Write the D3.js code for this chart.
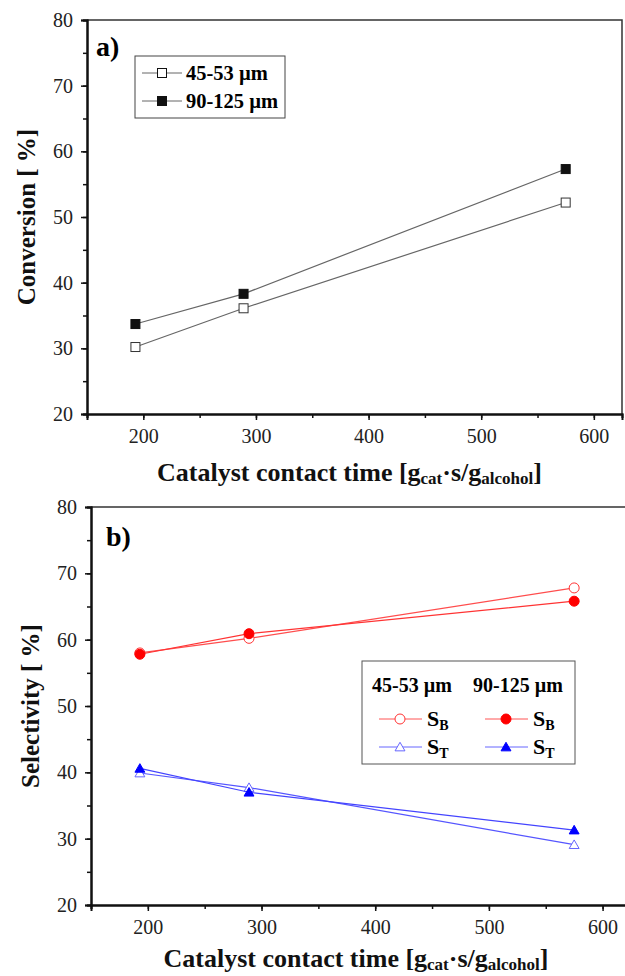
<!DOCTYPE html>
<html>
<head>
<meta charset="utf-8">
<script src="https://cdn.jsdelivr.net/npm/d3@7"></script>
<style>
  body { margin: 0; background: #fff; }
  svg text { font-family: "Liberation Serif", "DejaVu Serif", "Noto Serif", serif !important; }
</style>
</head>
<body>
<div id="chart"></div>
<script>
// contact time points, shared by both panels
var contactTime = [193, 289, 575];

// panel a) conversion
var convSmall = [30.2, 36.1, 52.2];   // 45-53 um
var convLarge = [33.7, 38.3, 57.3];   // 90-125 um

// panel b) selectivity
var sbSmall = [58.0, 60.2, 67.8];
var sbLarge = [57.8, 60.9, 65.8];
var stSmall = [39.9, 37.7, 29.1];
var stLarge = [40.6, 37.0, 31.3];

var xTicks = [200, 300, 400, 500, 600];
var yTicks = [20, 30, 40, 50, 60, 70, 80];

var W = 625, H = 976;
var svg = d3.select("#chart").append("svg").attr("width", W).attr("height", H);

function drawFrame(box, titleY) {
    var x = d3.scaleLinear().domain([150, 625]).range([box.left, box.right]);
    var y = d3.scaleLinear().domain([20, 80]).range([box.bottom, box.top]);
    var g = svg.append("g");

    // frame top and right
    g.append("path")
        .attr("d", "M" + box.left + "," + box.top + "H" + box.right + "V" + box.bottom)
        .attr("fill", "none").attr("stroke", "#333").attr("stroke-width", 1.5);

    // minor ticks
    var xAxis = d3.axisBottom(x).tickValues(d3.range(150, 626, 50)).tickSize(4).tickFormat("");
    g.append("g").attr("transform", "translate(0," + box.bottom + ")").call(xAxis);
    var xMajor = d3.axisBottom(x).tickValues(xTicks).tickSize(6).tickPadding(9).tickFormat(d3.format("d"));
    g.append("g").attr("class", "xmaj").attr("transform", "translate(0," + box.bottom + ")").call(xMajor);

    var yMinor = d3.axisLeft(y).tickValues(d3.range(20, 81, 5)).tickSize(4).tickFormat("");
    g.append("g").attr("transform", "translate(" + box.left + ",0)").call(yMinor);
    var yMajor = d3.axisLeft(y).tickValues(yTicks).tickSize(6).tickPadding(8).tickFormat(d3.format("d"));
    g.append("g").attr("class", "ymaj").attr("transform", "translate(" + box.left + ",0)").call(yMajor);

    g.selectAll(".domain").attr("stroke", "#111").attr("stroke-width", 2);
    g.selectAll(".tick line").attr("stroke", "#111").attr("stroke-width", 1.5);
    g.selectAll(".tick text").attr("font-size", 20).attr("fill", "#222");

    // x title with subscripts
    var t = g.append("text")
        .attr("x", (box.left + box.right) / 2 - 5)
        .attr("y", titleY)
        .attr("text-anchor", "middle")
        .attr("font-size", 26).attr("font-weight", "bold").attr("fill", "#111");
    t.append("tspan").text("Catalyst  contact  time  [g");
    t.append("tspan").attr("font-size", 17).attr("dy", 3).text("cat");
    t.append("tspan").attr("dy", -3).text("·s/g");
    t.append("tspan").attr("font-size", 17).attr("dy", 3).text("alcohol");
    t.append("tspan").attr("dy", -3).text("]");

    return { x: x, y: y, g: g };
}

function square(g, cx, cy, filled, color) {
    g.append("rect").attr("x", cx - 4.5).attr("y", cy - 4.5).attr("width", 9).attr("height", 9)
        .attr("fill", filled ? color : "#fff").attr("stroke", color).attr("stroke-width", 1);
}
function circle(g, cx, cy, filled, color) {
    g.append("circle").attr("cx", cx).attr("cy", cy).attr("r", 5)
        .attr("fill", filled ? color : "#fff").attr("stroke", color).attr("stroke-width", 1);
}
function triangle(g, cx, cy, filled, color) {
    g.append("path").attr("d", d3.symbol(d3.symbolTriangle2, 70)())
        .attr("transform", "translate(" + cx + "," + (cy + 1) + ")")
        .attr("fill", filled ? color : "#fff").attr("stroke", color).attr("stroke-width", 1);
}

function series(p, vals, lineColor, markerColor, marker, filled) {
    var line = d3.line().x(function (d, i) { return p.x(contactTime[i]); }).y(function (d) { return p.y(d); });
    p.g.append("path").datum(vals).attr("d", line)
        .attr("fill", "none").attr("stroke", lineColor).attr("stroke-width", 1.2);
    vals.forEach(function (d, i) { marker(p.g, p.x(contactTime[i]), p.y(d), filled, markerColor); });
}

// ---- panel a ----
var pa = drawFrame({ left: 87, right: 622, top: 20, bottom: 414 }, 481);
series(pa, convSmall, "#666", "#333", square, false);
series(pa, convLarge, "#666", "#111", square, true);

pa.g.append("text").attr("x", 96).attr("y", 56).attr("font-size", 28).attr("font-weight", "bold").text("a)");
pa.g.append("text").attr("transform", "translate(35,217) rotate(-90)").attr("text-anchor", "middle")
    .attr("font-size", 25).attr("font-weight", "bold").attr("fill", "#111").text("Conversion [ %]");

var la = pa.g.append("g");
la.append("rect").attr("x", 135).attr("y", 56).attr("width", 150).attr("height", 62)
    .attr("fill", "#fff").attr("stroke", "#444");
[["45-53 µm", false, 73], ["90-125 µm", true, 101]].forEach(function (r) {
    la.append("line").attr("x1", 142).attr("x2", 182).attr("y1", r[2]).attr("y2", r[2]).attr("stroke", "#666");
    square(la, 162, r[2], r[1], "#111");
    la.append("text").attr("x", 186).attr("y", r[2] + 7).attr("font-size", 20.5).attr("font-weight", "bold").text(r[0]);
});

// ---- panel b ----
var pb = drawFrame({ left: 91, right: 631, top: 507, bottom: 905 }, 967);
series(pb, sbSmall, "#ff4d4d", "#f33", circle, false);
series(pb, sbLarge, "#ff3333", "#f00", circle, true);
series(pb, stSmall, "#5555ff", "#66f", triangle, false);
series(pb, stLarge, "#4444ff", "#00f", triangle, true);

pb.g.append("text").attr("x", 106).attr("y", 546).attr("font-size", 28).attr("font-weight", "bold").text("b)");
pb.g.append("text").attr("transform", "translate(39,706) rotate(-90)").attr("text-anchor", "middle")
    .attr("font-size", 25).attr("font-weight", "bold").attr("fill", "#111").text("Selectivity [ %]");

var lb = pb.g.append("g");
lb.append("rect").attr("x", 362).attr("y", 661).attr("width", 213).attr("height", 103)
    .attr("fill", "#fff").attr("stroke", "#555");
lb.append("text").attr("x", 372).attr("y", 692).attr("font-size", 20).attr("font-weight", "bold").text("45-53 µm");
lb.append("text").attr("x", 473).attr("y", 692).attr("font-size", 20).attr("font-weight", "bold").text("90-125 µm");
var legRows = [
    { x: 379, y: 719, color: "#f55", mc: "#f33", m: circle, f: false, sub: "B" },
    { x: 485, y: 719, color: "#f55", mc: "#f00", m: circle, f: true, sub: "B" },
    { x: 379, y: 747, color: "#66f", mc: "#66f", m: triangle, f: false, sub: "T" },
    { x: 485, y: 747, color: "#66f", mc: "#00f", m: triangle, f: true, sub: "T" }
];
legRows.forEach(function (r) {
    lb.append("line").attr("x1", r.x).attr("x2", r.x + 43).attr("y1", r.y).attr("y2", r.y).attr("stroke", r.color);
    r.m(lb, r.x + 21, r.y, r.f, r.mc);
    var t = lb.append("text").attr("x", r.x + 48).attr("y", r.y + 7).attr("font-size", 22).attr("font-weight", "bold");
    t.append("tspan").text("S");
    t.append("tspan").attr("font-size", 14).attr("dy", 4).text(r.sub);
});
</script>
</body>
</html>
